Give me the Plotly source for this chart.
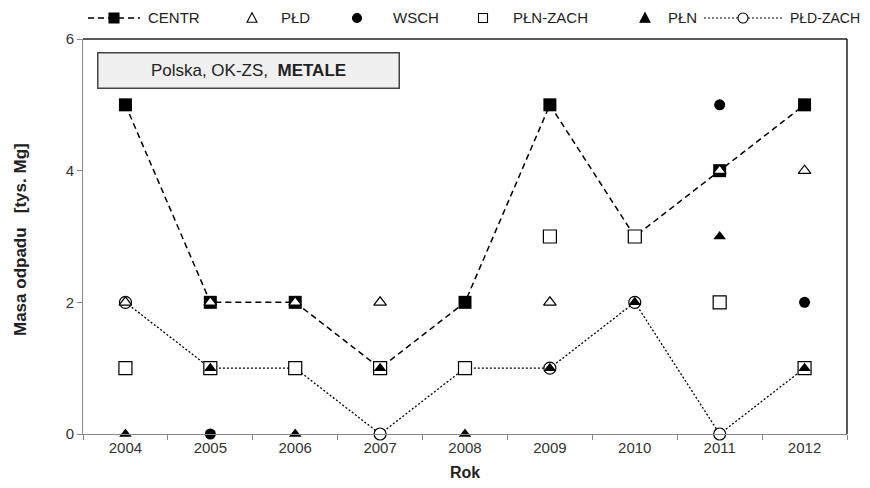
import plotly.graph_objects as go

years = ["2004", "2005", "2006", "2007", "2008", "2009", "2010", "2011", "2012"]
centr = [5, 2, 2, 1, 2, 5, 3, 4, 5]
pld = [2, 2, 2, 2, None, 2, None, 4, 4]
wsch = [None, 0, None, None, None, None, None, 5, 2]
pln_zach = [1, 1, 1, 1, 1, 3, 3, 2, 1]
pln = [0, 1, 0, 1, 0, 1, 2, 3, 1]
pld_zach = [2, 1, 1, 0, 1, 1, 2, 0, 1]
y_ticks = [0, 2, 4, 6]
series_names = ["CENTR", "PŁD", "WSCH", "PŁN-ZACH", "PŁN", "PŁD-ZACH"]

FONT = "Liberation Sans, Arial, sans-serif"
fig = go.Figure()

# drawing order: CENTR, PŁD-ZACH, PŁD, WSCH, PŁN-ZACH, PŁN
fig.add_trace(go.Scatter(x=years, y=centr, name="CENTR", mode="lines+markers",
                         line=dict(color="black", width=1.5, dash="6px,4px"),
                         marker=dict(symbol="square", size=13, color="black"),
                         cliponaxis=False))
fig.add_trace(go.Scatter(x=years, y=pld_zach, name="PŁD-ZACH", mode="lines+markers",
                         line=dict(color="black", width=1.3, dash="2px,2px"),
                         marker=dict(symbol="circle", size=12, color="white",
                                     line=dict(color="black", width=1.2)),
                         cliponaxis=False))
fig.add_trace(go.Scatter(x=years, y=pld, name="PŁD", mode="markers",
                         marker=dict(symbol="triangle-up", size=11, color="white",
                                     line=dict(color="black", width=1.2)),
                         cliponaxis=False))
fig.add_trace(go.Scatter(x=years, y=wsch, name="WSCH", mode="markers",
                         marker=dict(symbol="circle", size=11, color="black"),
                         cliponaxis=False))
fig.add_trace(go.Scatter(x=years, y=pln_zach, name="PŁN-ZACH", mode="markers",
                         marker=dict(symbol="square", size=13, color="white",
                                     line=dict(color="black", width=1.2)),
                         cliponaxis=False))
fig.add_trace(go.Scatter(x=years, y=pln, name="PŁN", mode="markers",
                         marker=dict(symbol="triangle-up", size=11, color="black"),
                         cliponaxis=False))

# page has an 8px body margin: figure sized so it fits the 870x488 window
W, H = 862, 480
L, R, T, B = 75, 23, 31, 54
PW, PH = W - L - R, H - T - B

fig.update_layout(
    width=W, height=H,
    margin=dict(l=L, r=R, t=T, b=B, autoexpand=False),
    paper_bgcolor="white", plot_bgcolor="white",
    font=dict(family=FONT, size=14, color="#222"),
    showlegend=False,
    xaxis=dict(type="category", range=[-0.5, 8.5], showgrid=False, automargin=False,
               showline=True, linecolor="#888", linewidth=1,
               ticks="outside", tickson="boundaries", ticklen=5, tickcolor="#888",
               tickfont=dict(size=15, color="#333"),
               title=dict(text="<b>Rok</b>", font=dict(size=16, color="#222"), standoff=11)),
    yaxis=dict(range=[0, 6], tickvals=y_ticks, showgrid=False, zeroline=False, automargin=False,
               showline=True, linecolor="#888", linewidth=1,
               ticks="outside", ticklen=5, tickcolor="#888",
               tickfont=dict(size=15, color="#333")),
)


def px(sx):  # screen x -> paper x
    return (sx - 8 - L) / PW


def py(sy):  # screen y -> paper y
    return (H - B + 8 - sy) / PH


# y-axis title
fig.add_annotation(xref="paper", yref="paper", x=px(20), y=py(240), xanchor="center", yanchor="middle",
                   text="<b>Masa odpadu   [tys. Mg]</b>", textangle=-90, showarrow=False,
                   font=dict(size=17, color="#222"))

# top and right frame
fig.add_shape(type="line", xref="paper", yref="paper", x0=0, x1=1, y0=1, y1=1,
              line=dict(color="#222", width=1.5))
fig.add_shape(type="line", xref="paper", yref="paper", x0=1, x1=1, y0=0, y1=1,
              line=dict(color="#222", width=1.5))

# title box
fig.add_annotation(xref="paper", yref="paper", x=px(97), y=py(52), xanchor="left", yanchor="top",
                   text="Polska, OK-ZS,  <b>METALE</b>", showarrow=False,
                   font=dict(size=17, color="#222"), bgcolor="#f0f0f0",
                   bordercolor="#444", borderwidth=1.5, width=298, height=32, align="center")

# ---- manual legend (top row) ----
LY = 18
ly = py(LY)


def sym(kind, cx, filled, size=10):
    h = size / 2
    fill = "black" if filled else "white"
    base = dict(xref="paper", yref="paper", xsizemode="pixel", ysizemode="pixel",
                xanchor=px(cx), yanchor=ly, line=dict(color="black", width=1.1),
                fillcolor=fill, layer="above")
    if kind == "square":
        fig.add_shape(type="rect", x0=-h, x1=h, y0=-h, y1=h, **base)
    elif kind == "circle":
        fig.add_shape(type="circle", x0=-h, x1=h, y0=-h, y1=h, **base)
    else:
        fig.add_shape(type="path", path=f"M {-h},{-h*0.85} L {h},{-h*0.85} L 0,{h*1.05} Z", **base)


def ltext(txt, sx, anchor="left", size=15):
    fig.add_annotation(xref="paper", yref="paper", x=px(sx), y=ly, xanchor=anchor, yanchor="middle",
                       text=txt, showarrow=False, font=dict(size=size, color="#222"))


# CENTR
fig.add_shape(type="line", xref="paper", yref="paper", x0=px(88), x1=px(140), y0=ly, y1=ly,
              line=dict(color="black", width=1.5, dash="6px,4px"))
sym("square", 114, True, 10)
ltext(series_names[0], 146)
# PŁD
sym("triangle", 252, False, 10)
ltext(series_names[1], 279)
# WSCH
sym("circle", 357, True, 9)
ltext(series_names[2], 391)
# PŁN-ZACH
sym("square", 483, False, 9)
ltext(series_names[3], 511)
# PŁN
sym("triangle", 645, True, 10)
ltext(series_names[4], 666)
# PŁD-ZACH
fig.add_shape(type="line", xref="paper", yref="paper", x0=px(704), x1=px(782), y0=ly, y1=ly,
              line=dict(color="black", width=1.2, dash="2px,2px"))
sym("circle", 743, False, 10)
ltext(series_names[5], 862, "right", 14)

fig.write_html("out.html")
